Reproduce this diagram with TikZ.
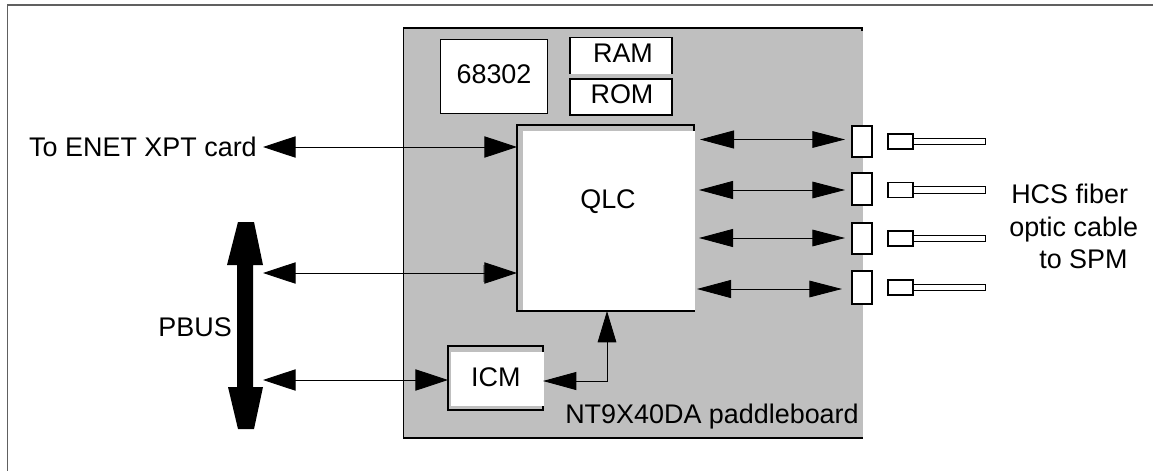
\documentclass[tikz,border=0pt]{standalone}
\usepackage{fontspec}
\setmainfont{Liberation Sans}
\usetikzlibrary{arrows.meta}

\definecolor{panelgray}{HTML}{BFBFBF}
\definecolor{framegray}{HTML}{606060}

\tikzset{
	box/.style={draw, fill=white, line width=0.9pt, inner sep=0pt, outer sep=0pt},
	whitebox/.style={fill=white, inner sep=0pt, outer sep=0pt},
	port/.style={box, line width=1.1pt, minimum width=15pt, minimum height=23.5pt},
	plug/.style={box, minimum width=18.75pt, minimum height=11.25pt},
	cable/.style={box, anchor=west, minimum width=54.5pt, minimum height=5pt},
	bigarrow/.style={line width=0.65pt, arrows={Triangle[length=24.5pt,width=16pt]-Triangle[length=24.5pt,width=16pt]}},
	portarrow/.style={line width=0.65pt, arrows={Triangle[length=25.5pt,width=13.5pt]-Triangle[length=24.5pt,width=12.5pt]}}
}

\begin{document}
\begin{tikzpicture}[x=0.75pt, y=-0.75pt, font=\fontsize{20.2}{24}\selectfont]

	\useasboundingbox (0,0) rectangle (1153,471);

	% outer frame
	\draw[framegray, line width=1.4pt] (7.5,471) -- (7.5,5) -- (1153,5);

	% paddleboard
	\fill[panelgray] (404,29) rectangle (863,438);
	\draw[line width=0.9pt] (862,31) -- (862,28) -- (403.5,28) -- (403.5,438) -- (863,438);
	\node[anchor=base east, inner sep=0pt] (board) at (859,423) {NT9X40DA paddleboard};

	% memory and processor
	\node[box, minimum width=80pt, minimum height=55pt, text depth=3.5pt] (cpu) at (494,76.5) {68302};
	\node[whitebox, minimum width=76.5pt, minimum height=27pt, text depth=3.5pt] (ram) at (621,55.5) {\hspace*{3pt}RAM};
	\draw[line width=0.9pt] (ram.south west) -- (ram.north west) -- (ram.north east) -- (ram.south east);
	\node[box, minimum width=76.5pt, minimum height=27pt, text depth=4pt] (rom) at (621,97) {\hspace*{1.5pt}ROM};

	% QLC with its offset outline
	\draw[line width=0.9pt] (517,311) rectangle (694,125);
	\coordinate (qlcw) at (517,218);
	\coordinate (qlcs) at (607,311);
	\coordinate (qlce) at (694,218);
	\node[whitebox, minimum width=129pt, minimum height=134.25pt, text depth=32pt] (qlc) at (609,220.5) {QLC\hspace*{1.5pt}};

	% ICM with its offset outline
	\draw[line width=0.9pt] (448,410) rectangle (543,346);
	\coordinate (icmw) at (448,378);
	\coordinate (icme) at (543,378);
	\node[whitebox, minimum width=69.75pt, minimum height=40.5pt, text depth=3pt] (icm) at (497.5,379) {ICM\hspace*{2.5pt}};

	% PBUS
	\fill (238,222) -- (254,222) -- (263,265) -- (253,265) -- (253,387) -- (263,387)
		-- (254,429) -- (238,429) -- (228,387) -- (237,387) -- (237,265) -- (227,265) -- cycle;
	\node[anchor=east, inner sep=0pt] (pbus) at (232,327) {PBUS};

	% links on the left
	\node[anchor=east, inner sep=0pt, text depth=0pt] (enet) at (257,147) {To ENET XPT card};
	\coordinate (enetend) at (263,147);
	\coordinate (busa) at (263,273);
	\coordinate (busb) at (263,380);
	\draw[bigarrow] (enetend) -- (qlcw |- enetend);
	\fill[gray] (483,265) rectangle (486,282);
	\draw[bigarrow] (busa) -- (qlcw |- busa);
	\draw[bigarrow] (busb) -- (icmw |- busb);

	% QLC to ICM
	\coordinate (bend) at (607,381);
	\draw[line width=0.65pt, arrows={Triangle[length=25pt,width=13.5pt]-Triangle[length=23.5pt,width=14pt]}]
		(icme |- bend) -- (bend) -- (qlcs);

	% ports, plugs and cables
	\foreach \i/\py/\ph/\gy/\ay/\sl/\sr in {1/141.5/23.5/141.5/139.5/4.5/5.25,
			2/189/24/190/190/3.75/5.25,
			3/238.5/23.5/238.5/238/3.75/5.25,
			4/287.5/24.75/287.5/289/2.25/7.5}{
		\node[port, minimum height=\ph pt] (port\i) at (862,\py) {};
		\node[plug] (plug\i) at (900.5,\gy) {};
		\node[cable] (cable\i) at (plug\i.east) {};
		\coordinate (arrow\i) at (852,\ay);
		\draw[portarrow, shorten <=\sl pt, shorten >=\sr pt] (qlce |- arrow\i) -- (arrow\i);
	}

	\node[anchor=north west, align=left, inner sep=0pt, font=\fontsize{20.2}{24.4}\selectfont] (fiber) at (1009,184)
		{\hspace*{1.5pt}HCS fiber\\optic cable\\\hspace*{22.5pt}to SPM};

\end{tikzpicture}
\end{document}
